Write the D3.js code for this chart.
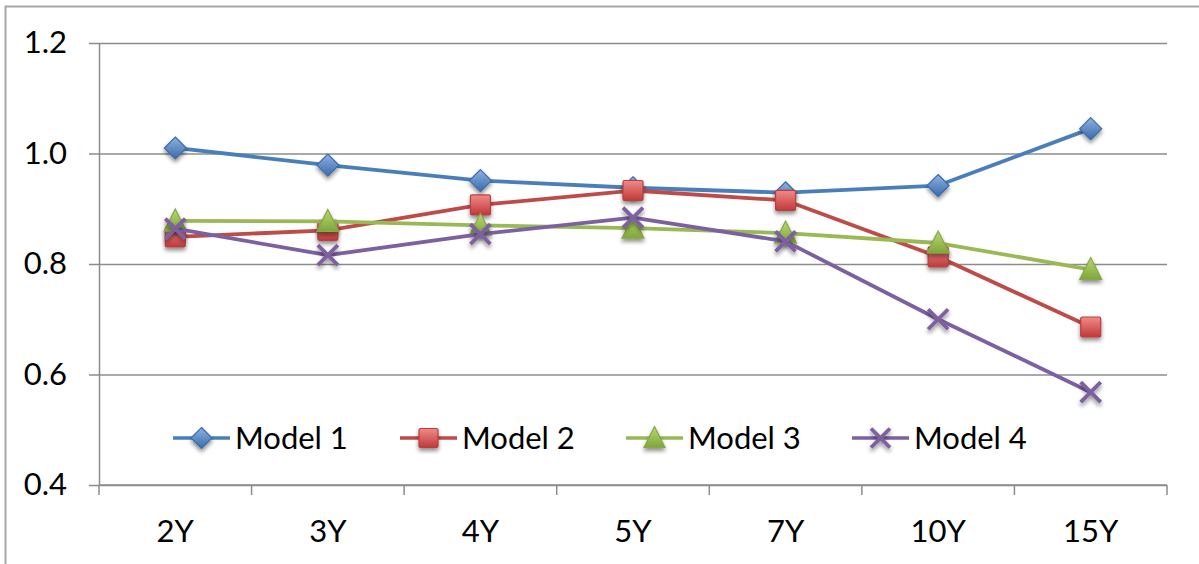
<!DOCTYPE html>
<html>
<head>
<meta charset="utf-8">
<script src="https://cdn.jsdelivr.net/npm/d3@7"></script>
<style>
  html, body { margin: 0; padding: 0; background: #fff; }
  svg { display: block; font-family: Lato, "Open Sans", sans-serif; }
</style>
</head>
<body>
<svg id="chart" width="1199" height="564"></svg>
<script>
// Tenors on the x axis
const categories = ["2Y", "3Y", "4Y", "5Y", "7Y", "10Y", "15Y"];
// Series values per tenor
const model1 = [1.010, 0.979, 0.951, 0.938, 0.929, 0.942, 1.045];
const model2 = [0.849, 0.861, 0.907, 0.933, 0.915, 0.813, 0.686];
const model3 = [0.878, 0.877, 0.870, 0.865, 0.856, 0.838, 0.790];
const model4 = [0.864, 0.816, 0.854, 0.884, 0.841, 0.700, 0.568];
const seriesNames = ["Model 1", "Model 2", "Model 3", "Model 4"];
// Y axis tick values
const yTicks = [0.4, 0.6, 0.8, 1.0, 1.2];

const series = [
  { name: seriesNames[0], values: model1, line: "#4a7ebb", light: "#8fb2e3", dark: "#3a6aa8", shape: "diamond" },
  { name: seriesNames[1], values: model2, line: "#be4b48", light: "#f08a87", dark: "#c0393a", shape: "square" },
  { name: seriesNames[2], values: model3, line: "#98b954", light: "#b9d872", dark: "#7ea63a", shape: "triangle" },
  { name: seriesNames[3], values: model4, line: "#7d60a0", light: "#7d60a0", dark: "#7d60a0", shape: "cross" }
];

const svg = d3.select("#chart");
const W = 1199, H = 564;
const margin = { left: 99, right: 32, top: 43, bottom: 79 };
const fontSize = 31;

// Outer chart frame
svg.append("rect")
  .attr("x", 5.5).attr("y", 6.5)
  .attr("width", W + 20).attr("height", H + 20)
  .attr("fill", "#fff").attr("stroke", "#a6a6a6").attr("stroke-width", 2);

const defs = svg.append("defs");
const shadow = defs.append("filter").attr("id", "shadow")
  .attr("x", "-50%").attr("y", "-50%").attr("width", "200%").attr("height", "200%");
shadow.append("feGaussianBlur").attr("in", "SourceAlpha").attr("stdDeviation", 2).attr("result", "b");
shadow.append("feOffset").attr("in", "b").attr("dx", 0).attr("dy", 3).attr("result", "o");
shadow.append("feComponentTransfer").attr("in", "o").attr("result", "s")
  .append("feFuncA").attr("type", "linear").attr("slope", 0.45);
const merge = shadow.append("feMerge");
merge.append("feMergeNode").attr("in", "s");
merge.append("feMergeNode").attr("in", "SourceGraphic");

series.forEach((s, i) => {
  const g = defs.append("linearGradient").attr("id", "grad" + i)
    .attr("x1", 0).attr("y1", 0).attr("x2", 0).attr("y2", 1);
  g.append("stop").attr("offset", "0%").attr("stop-color", s.light);
  g.append("stop").attr("offset", "100%").attr("stop-color", s.dark);
});

const x = d3.scaleBand().domain(categories)
  .range([margin.left, W - margin.right]).paddingInner(0).paddingOuter(0);
const y = d3.scaleLinear().domain([0.4, 1.2]).range([H - margin.bottom, margin.top]);

// Horizontal gridlines with outward tick stubs
const gy = svg.append("g").attr("transform", `translate(${margin.left},0)`);
gy.call(d3.axisLeft(y).tickValues(yTicks)
    .tickSize(-(W - margin.right - margin.left)).tickSizeOuter(0).tickPadding(32)
    .tickFormat(d3.format(".1f")));
gy.select(".domain").attr("stroke", "#8c8c8c").attr("stroke-width", 1.5);
gy.selectAll(".tick line").attr("stroke", "#8c8c8c").attr("stroke-width", 1.5)
  .attr("x1", -10);
gy.selectAll(".tick text").attr("font-size", fontSize).attr("fill", "#000")
  .attr("font-family", "Lato, sans-serif");

// X axis with ticks between categories
const xb = svg.append("g").attr("transform", `translate(0,${H - margin.bottom})`);
xb.append("line").attr("x1", margin.left).attr("x2", W - margin.right)
  .attr("stroke", "#8c8c8c").attr("stroke-width", 1.5);
const bounds = categories.map(c => x(c)).concat([x(categories[categories.length - 1]) + x.bandwidth()]);
xb.selectAll(".tk").data(bounds).join("line")
  .attr("x1", d => d).attr("x2", d => d).attr("y1", 0).attr("y2", 10)
  .attr("stroke", "#8c8c8c").attr("stroke-width", 1.5);
xb.selectAll(".lbl").data(categories).join("text")
  .attr("x", d => x(d) + x.bandwidth() / 2).attr("y", 57)
  .attr("text-anchor", "middle").attr("font-size", fontSize).attr("fill", "#000")
  .text(d => d);

const cx = c => x(c) + x.bandwidth() / 2;

function drawMarker(sel, s, i, size) {
  const r = size / 2;
  if (s.shape === "diamond") {
    sel.append("path").attr("d", `M0,${-r - 1}L${r + 1},0L0,${r + 1}L${-r - 1},0Z`)
      .attr("fill", `url(#grad${i})`).attr("stroke", "#3c6cac").attr("stroke-width", 1.2);
  } else if (s.shape === "square") {
    sel.append("rect").attr("x", -r).attr("y", -r).attr("width", size).attr("height", size)
      .attr("rx", 1.5).attr("fill", `url(#grad${i})`).attr("stroke", "#b5403d").attr("stroke-width", 1.2);
  } else if (s.shape === "triangle") {
    sel.append("path").attr("d", `M0,${-r - 2}L${r + 1},${r}L${-r - 1},${r}Z`)
      .attr("fill", `url(#grad${i})`).attr("stroke", "#86a845").attr("stroke-width", 1.2);
  } else {
    sel.append("path").attr("d", `M${-r},${-r}L${r},${r}M${r},${-r}L${-r},${r}`)
      .attr("stroke", s.line).attr("stroke-width", 3.8).attr("fill", "none");
  }
}

const line = d3.line().x((d, j) => cx(categories[j])).y(d => y(d));

series.forEach((s, i) => {
  const g = svg.append("g");
  g.append("path").datum(s.values).attr("d", line)
    .attr("fill", "none").attr("stroke", s.line).attr("stroke-width", 3.8)
    .attr("stroke-linejoin", "round");
  s.values.forEach((v, j) => {
    const m = g.append("g").attr("transform", `translate(${cx(categories[j])},${y(v)})`)
      .attr("filter", "url(#shadow)");
    drawMarker(m, s, i, 20);
  });
});

// Legend
const legendX = [173, 400, 626, 852];
const legendY = 438;
const lg = svg.append("g");
series.forEach((s, i) => {
  const g = lg.append("g").attr("transform", `translate(${legendX[i]},${legendY})`);
  g.append("line").attr("x1", 0).attr("x2", 57).attr("stroke", s.line).attr("stroke-width", 3.5);
  const m = g.append("g").attr("transform", "translate(28.5,0)").attr("filter", "url(#shadow)");
  drawMarker(m, s, i, 19);
  g.append("text").attr("x", 62).attr("y", 11).attr("font-size", fontSize).attr("fill", "#000").text(s.name);
});
</script>
</body>
</html>
